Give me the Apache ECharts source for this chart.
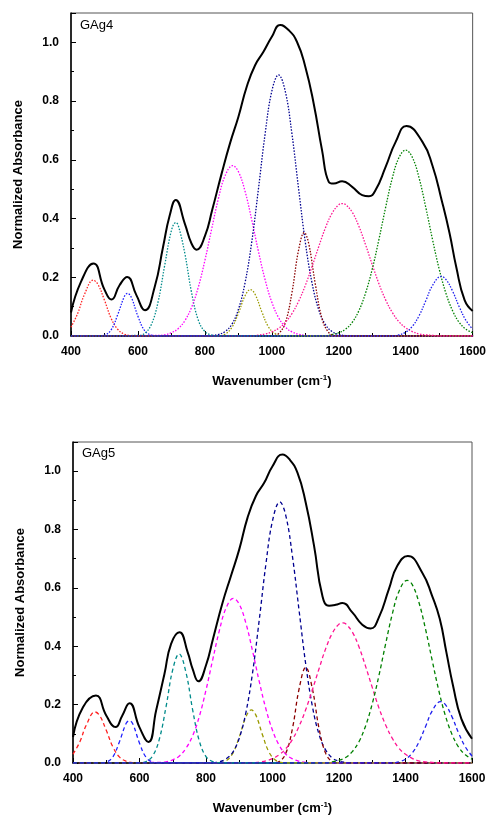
<html>
<head>
<meta charset="utf-8">
<script src="https://cdn.jsdelivr.net/npm/echarts@6/dist/echarts.min.js"></script>
</head>
<body style="margin:0">
<div id="main" style="width:489px;height:816px;"></div>
<script type="text/javascript">
// wavenumber, absorbance pairs
var panelNames = ['GAg4', 'GAg5'];
var xTicks = [400, 600, 800, 1000, 1200, 1400, 1600];
var yTicks = [0.0, 0.2, 0.4, 0.6, 0.8, 1.0];

var total4 = [[400,0.08],[430,0.185],[467,0.247],[500,0.158],[521,0.124],[545,0.173],[568,0.201],[595,0.14],[621,0.088],[650,0.167],[675,0.303],[695,0.411],[713,0.463],[740,0.383],[760,0.315],[775,0.294],[800,0.34],[822,0.43],[850,0.553],[875,0.656],[900,0.746],[925,0.849],[950,0.922],[975,0.968],[1000,1.019],[1025,1.059],[1050,1.042],[1075,1.002],[1100,0.917],[1125,0.792],[1150,0.633],[1170,0.525],[1185,0.519],[1210,0.527],[1240,0.508],[1270,0.48],[1290,0.476],[1310,0.497],[1340,0.576],[1370,0.661],[1402,0.715],[1450,0.661],[1480,0.58],[1508,0.46],[1531,0.35],[1551,0.235],[1576,0.122],[1600,0.085]];
var red4 = [[400,0.03],[420,0.077],[440,0.141],[466,0.19],[480,0.177],[500,0.122],[520,0.06],[540,0.022],[560,0.006],[580,0.001],[600,0],[1600,0]];
var blueA4 = [[400,0],[480,0],[500,0.003],[520,0.021],[540,0.074],[560,0.136],[569,0.145],[580,0.132],[600,0.067],[620,0.018],[640,0.003],[660,0],[1600,0]];
var teal4 = [[400,0],[600,0.002],[620,0.009],[640,0.039],[660,0.115],[680,0.241],[700,0.359],[713,0.386],[720,0.378],[740,0.282],[760,0.149],[780,0.055],[800,0.015],[820,0.003],[840,0],[1600,0]];
var magenta4 = [[400,0],[660,0.002],[680,0.004],[700,0.011],[720,0.025],[740,0.052],[760,0.097],[780,0.165],[800,0.257],[820,0.363],[840,0.466],[860,0.545],[883,0.58],[900,0.56],[920,0.493],[940,0.395],[960,0.288],[980,0.191],[1000,0.115],[1020,0.063],[1040,0.031],[1060,0.014],[1080,0.006],[1100,0.002],[1120,0.001],[1140,0],[1600,0]];
var olive4 = [[400,0],[840,0.001],[860,0.006],[880,0.028],[900,0.077],[920,0.137],[936,0.158],[950,0.142],[970,0.083],[990,0.031],[1010,0.008],[1030,0.001],[1050,0],[1600,0]];
var navy4 = [[400,0],[800,0],[820,0.0015],[840,0.005],[860,0.015],[880,0.039],[900,0.09],[920,0.181],[940,0.32],[960,0.501],[980,0.689],[1000,0.834],[1020,0.889],[1040,0.834],[1060,0.689],[1080,0.501],[1100,0.32],[1120,0.181],[1140,0.09],[1160,0.039],[1180,0.015],[1200,0.005],[1220,0.0015],[1240,0],[1600,0]];
var brown4 = [[400,0],[1000,0.001],[1020,0.008],[1040,0.044],[1060,0.147],[1080,0.293],[1097,0.352],[1110,0.316],[1130,0.176],[1150,0.059],[1170,0.012],[1190,0.001],[1210,0],[1600,0]];
var pink4 = [[400,0],[940,0],[960,0.003],[980,0.007],[1000,0.014],[1020,0.026],[1040,0.046],[1060,0.076],[1080,0.118],[1100,0.172],[1120,0.236],[1140,0.304],[1160,0.368],[1180,0.418],[1200,0.447],[1211,0.451],[1220,0.448],[1240,0.422],[1260,0.374],[1280,0.311],[1300,0.243],[1320,0.178],[1340,0.123],[1360,0.08],[1380,0.048],[1400,0.028],[1420,0.015],[1440,0.007],[1460,0.004],[1480,0.002],[1500,0],[1600,0]];
var green4 = [[400,0],[1160,0],[1180,0.005],[1200,0.011],[1220,0.023],[1240,0.046],[1260,0.086],[1280,0.146],[1300,0.228],[1320,0.329],[1340,0.438],[1360,0.538],[1380,0.608],[1400,0.633],[1420,0.608],[1440,0.538],[1460,0.438],[1480,0.329],[1500,0.228],[1520,0.146],[1540,0.086],[1560,0.046],[1580,0.023],[1600,0.011]];
var blueB4 = [[400,0],[1360,0],[1380,0.004],[1400,0.013],[1420,0.033],[1440,0.069],[1460,0.12],[1480,0.172],[1506,0.203],[1520,0.193],[1540,0.153],[1560,0.099],[1580,0.053],[1600,0.023]];

var total5 = [[400,0.089],[430,0.191],[469,0.231],[500,0.163],[528,0.123],[548,0.162],[570,0.205],[600,0.122],[627,0.072],[650,0.18],[675,0.305],[695,0.408],[720,0.448],[745,0.379],[760,0.322],[777,0.28],[800,0.335],[821,0.425],[850,0.55],[875,0.641],[900,0.732],[925,0.841],[950,0.915],[975,0.96],[1000,1.017],[1030,1.057],[1050,1.042],[1075,0.995],[1100,0.892],[1125,0.744],[1150,0.573],[1170,0.539],[1190,0.542],[1210,0.548],[1240,0.516],[1270,0.474],[1295,0.461],[1320,0.499],[1350,0.596],[1375,0.675],[1407,0.709],[1450,0.653],[1480,0.573],[1503,0.494],[1523,0.379],[1543,0.265],[1568,0.151],[1600,0.083]];
var red5 = [[400,0.03],[420,0.071],[440,0.13],[466,0.175],[480,0.163],[500,0.112],[520,0.055],[540,0.02],[560,0.006],[580,0.001],[600,0],[1600,0]];
var blueA5 = [[400,0],[480,0],[500,0.003],[520,0.021],[540,0.074],[560,0.136],[570,0.145],[580,0.134],[600,0.068],[620,0.019],[640,0.003],[660,0],[1600,0]];
var teal5 = [[400,0],[600,0.001],[620,0.005],[640,0.025],[660,0.083],[680,0.194],[700,0.32],[719,0.374],[740,0.309],[760,0.181],[780,0.075],[800,0.022],[820,0.005],[840,0.001],[860,0],[1600,0]];
var magenta5 = [[400,0],[660,0.002],[680,0.004],[700,0.011],[720,0.024],[740,0.051],[760,0.094],[780,0.16],[800,0.25],[820,0.353],[840,0.453],[860,0.53],[882,0.564],[900,0.544],[920,0.479],[940,0.384],[960,0.28],[980,0.186],[1000,0.112],[1020,0.061],[1040,0.03],[1060,0.014],[1080,0.006],[1100,0.002],[1120,0.001],[1140,0],[1600,0]];
var olive5 = [[400,0],[840,0.001],[860,0.007],[880,0.032],[900,0.089],[920,0.158],[936,0.182],[950,0.164],[970,0.096],[990,0.036],[1010,0.009],[1030,0.001],[1050,0],[1600,0]];
var navy5 = [[400,0],[800,0],[820,0.001],[840,0.004],[860,0.014],[880,0.036],[900,0.085],[920,0.173],[940,0.309],[960,0.489],[980,0.68],[1000,0.83],[1022,0.895],[1040,0.848],[1060,0.708],[1080,0.522],[1100,0.338],[1120,0.194],[1140,0.098],[1160,0.044],[1180,0.017],[1200,0.006],[1220,0.002],[1240,0],[1600,0]];
var brown5 = [[400,0],[1000,0.0005],[1020,0.005],[1040,0.033],[1060,0.118],[1080,0.254],[1100,0.328],[1120,0.254],[1140,0.118],[1160,0.033],[1180,0.005],[1200,0.0005],[1220,0],[1600,0]];
var pink5 = [[400,0],[940,0],[960,0.003],[980,0.007],[1000,0.015],[1020,0.028],[1040,0.049],[1060,0.081],[1080,0.126],[1100,0.183],[1120,0.251],[1140,0.323],[1160,0.392],[1180,0.445],[1200,0.476],[1212,0.48],[1220,0.477],[1240,0.449],[1260,0.398],[1280,0.331],[1300,0.259],[1320,0.189],[1340,0.131],[1360,0.085],[1380,0.051],[1400,0.03],[1420,0.016],[1440,0.007],[1460,0.004],[1480,0.002],[1500,0],[1600,0]];
var green5 = [[400,0],[1160,0],[1180,0.004],[1200,0.009],[1220,0.019],[1240,0.039],[1260,0.073],[1280,0.127],[1300,0.203],[1320,0.299],[1340,0.407],[1360,0.509],[1380,0.587],[1405,0.626],[1420,0.612],[1440,0.552],[1460,0.46],[1480,0.353],[1500,0.249],[1520,0.162],[1540,0.098],[1560,0.054],[1580,0.028],[1600,0.013]];
var blueB5 = [[400,0],[1360,0],[1380,0.004],[1400,0.013],[1420,0.034],[1440,0.071],[1460,0.124],[1480,0.178],[1505,0.21],[1520,0.2],[1540,0.158],[1560,0.102],[1580,0.055],[1600,0.024]];

var compColors = ['#ff2020', '#2020ff', '#008b8b', '#ff00ff', '#9a9a00', '#000090', '#8b0000', '#ff1493', '#008000', '#2020ee'];
var comps = [
  [red4, blueA4, teal4, magenta4, olive4, navy4, brown4, pink4, green4, blueB4],
  [red5, blueA5, teal5, magenta5, olive5, navy5, brown5, pink5, green5, blueB5]
];
var totals = [total4, total5];

var myChart = echarts.init(document.getElementById('main'));

var grids = [
  {left: 71, right: 16, top: 13, height: 323, show: true, borderColor: '#555', borderWidth: 1},
  {left: 73, right: 17, top: 442, height: 322, show: true, borderColor: '#555', borderWidth: 1}
];

var xAxes = [], yAxes = [], series = [];
for (var p = 0; p < 2; p++) {
  xAxes.push({
    type: 'value', gridIndex: p, min: 400, max: 1600, interval: 200,
    name: '{t|Wavenumber (cm}{s|-1}{t|)}',
    nameLocation: 'middle', nameGap: 38,
    nameTextStyle: {
      rich: {
        t: {fontFamily: 'Liberation Sans', fontWeight: 'bold', fontSize: 13, color: '#000'},
        s: {fontFamily: 'Liberation Sans', fontWeight: 'bold', fontSize: 8, color: '#000', padding: [0, 0, 7, 0]}
      }
    },
    axisLine: {lineStyle: {color: '#000', width: 1.5}},
    axisTick: {inside: true, length: 5, lineStyle: {color: '#000'}},
    minorTick: {show: true, splitNumber: 2, length: 3, lineStyle: {color: '#000'}},
    axisLabel: {
      margin: 10, color: '#000', fontFamily: 'Liberation Sans', fontWeight: 'bold', fontSize: 12,
      formatter: function (v) { return xTicks.indexOf(v) >= 0 ? String(v) : ''; }
    },
    splitLine: {show: false}
  });
  yAxes.push({
    type: 'value', gridIndex: p, min: 0, max: 1.1, interval: 0.2,
    name: 'Normalized Absorbance',
    nameLocation: 'middle', nameGap: 46,
    nameTextStyle: {fontFamily: 'Liberation Sans', fontWeight: 'bold', fontSize: 13, color: '#000'},
    axisLine: {lineStyle: {color: '#000', width: 1.5}},
    axisTick: {inside: true, length: 5, lineStyle: {color: '#000'}},
    minorTick: {show: true, splitNumber: 2, length: 3, lineStyle: {color: '#000'}},
    axisLabel: {
      margin: 12, color: '#000', fontFamily: 'Liberation Sans', fontWeight: 'bold', fontSize: 12,
      showMaxLabel: false,
      formatter: function (v) {
        var r = Math.round(v * 10) / 10;
        return yTicks.indexOf(r) >= 0 ? r.toFixed(1) : '';
      }
    },
    splitLine: {show: false}
  });
  for (var c = 0; c < comps[p].length; c++) {
    series.push({
      type: 'line', xAxisIndex: p, yAxisIndex: p, data: comps[p][c],
      smooth: 0.4, showSymbol: false, silent: true,
      lineStyle: {color: compColors[c], width: 1.3, type: p === 0 ? [1.5, 1.5] : [4, 3]}
    });
  }
  series.push({
    type: 'line', xAxisIndex: p, yAxisIndex: p, data: totals[p],
    smooth: 0.5, showSymbol: false, silent: true,
    lineStyle: {color: '#000', width: 2}
  });
}

option = {
  animation: false,
  grid: grids,
  xAxis: xAxes,
  yAxis: yAxes,
  series: series,
  graphic: [
    {type: 'text', left: 80, top: 19, style: {text: panelNames[0], font: '13px "Liberation Sans"', fill: '#000'}},
    {type: 'text', left: 82, top: 447, style: {text: panelNames[1], font: '13px "Liberation Sans"', fill: '#000'}}
  ]
};
myChart.setOption(option);
</script>
</body>
</html>
